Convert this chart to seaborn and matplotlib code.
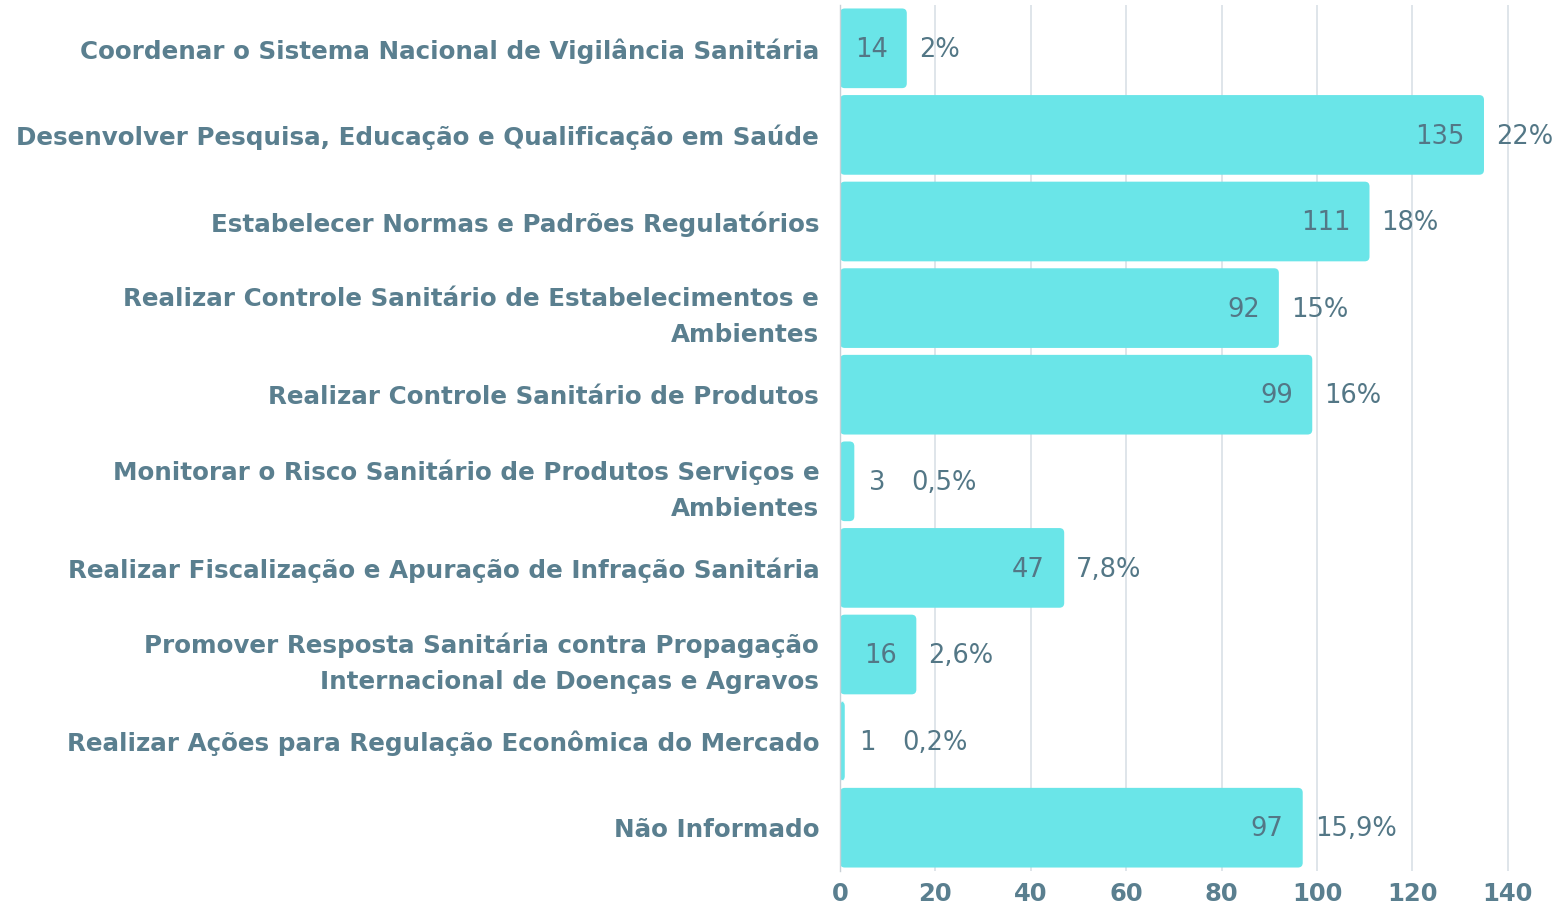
import matplotlib
matplotlib.use("Agg")
import matplotlib.pyplot as plt
from matplotlib.patches import FancyBboxPatch
import seaborn as sns
import pandas as pd

categories = [
    "Coordenar o Sistema Nacional de Vigilância Sanitária",
    "Desenvolver Pesquisa, Educação e Qualificação em Saúde",
    "Estabelecer Normas e Padrões Regulatórios",
    "Realizar Controle Sanitário de Estabelecimentos e\nAmbientes",
    "Realizar Controle Sanitário de Produtos",
    "Monitorar o Risco Sanitário de Produtos Serviços e\nAmbientes",
    "Realizar Fiscalização e Apuração de Infração Sanitária",
    "Promover Resposta Sanitária contra Propagação\nInternacional de Doenças e Agravos",
    "Realizar Ações para Regulação Econômica do Mercado",
    "Não Informado",
]
values = [14, 135, 111, 92, 99, 3, 47, 16, 1, 97]
percents = ["2%", "22%", "18%", "15%", "16%", "0,5%", "7,8%", "2,6%", "0,2%", "15,9%"]
xticks = [0, 20, 40, 60, 80, 100, 120, 140]

BAR = "#6ae5e8"
TXT = "#5a7f8f"
GRID = "#dce3e8"

sns.set_theme(style="white")
plt.rcParams["font.family"] = ["DejaVu Sans"]

df = pd.DataFrame({"cat": categories, "val": values})

fig = plt.figure(figsize=(15.55, 9.08), dpi=100)
ax = fig.add_axes([840 / 1555, 1 - 871 / 908, 706 / 1555, 866 / 908])
sns.barplot(data=df, y="cat", x="val", orient="h", color=BAR, saturation=1,
            width=0.92, ax=ax, zorder=2)

# round the bar ends, keeping the geometry seaborn produced
for p in list(ax.patches):
    x, y, w, h = p.get_x(), p.get_y(), p.get_width(), p.get_height()
    fb = FancyBboxPatch((x, y), w, h,
                        boxstyle="round,pad=0,rounding_size=1.0",
                        mutation_aspect=0.055, facecolor=BAR, edgecolor="none",
                        zorder=2)
    p.remove()
    ax.add_patch(fb)

ax.set_xlim(0, 148)
ax.set_ylim(9.5, -0.5)
ax.set_xticks(xticks)
ax.xaxis.grid(True, color=GRID, linewidth=1.3, zorder=0)
ax.set_axisbelow(True)
for s in ["top", "right", "bottom"]:
    ax.spines[s].set_visible(False)
ax.spines["left"].set_color("#c8d0d6")
ax.spines["left"].set_linewidth(1)
ax.spines["left"].set_zorder(3)
ax.set_xlabel("")
ax.set_ylabel("")
ax.tick_params(axis="both", length=0)
ax.tick_params(axis="y", pad=15)
ax.tick_params(axis="x", pad=8)
for lab in ax.get_yticklabels():
    lab.set_fontsize(17.7)
    lab.set_fontweight("bold")
    lab.set_color(TXT)
    lab.set_horizontalalignment("right")
    lab.set_multialignment("right")
    lab.set_linespacing(1.64)
for lab in ax.get_xticklabels():
    lab.set_fontsize(17.5)
    lab.set_fontweight("bold")
    lab.set_color(TXT)

FS = 18.5
VTXT = "#537786"
for i, (v, p) in enumerate(zip(values, percents)):
    if v >= 10:
        ax.text(v - 4, i + 0.02, str(v), ha="right", va="center", fontsize=FS,
                color=VTXT, zorder=3)
        ax.text(v + 2.5, i + 0.02, p, ha="left", va="center", fontsize=FS,
                color=VTXT, zorder=3)
    else:
        ax.text(v + 3, i + 0.02, str(v), ha="left", va="center", fontsize=FS,
                color=VTXT, zorder=3)
        ax.text(v + 12, i + 0.02, p, ha="left", va="center", fontsize=FS,
                color=VTXT, zorder=3)

fig.savefig("out.png", dpi=100)
